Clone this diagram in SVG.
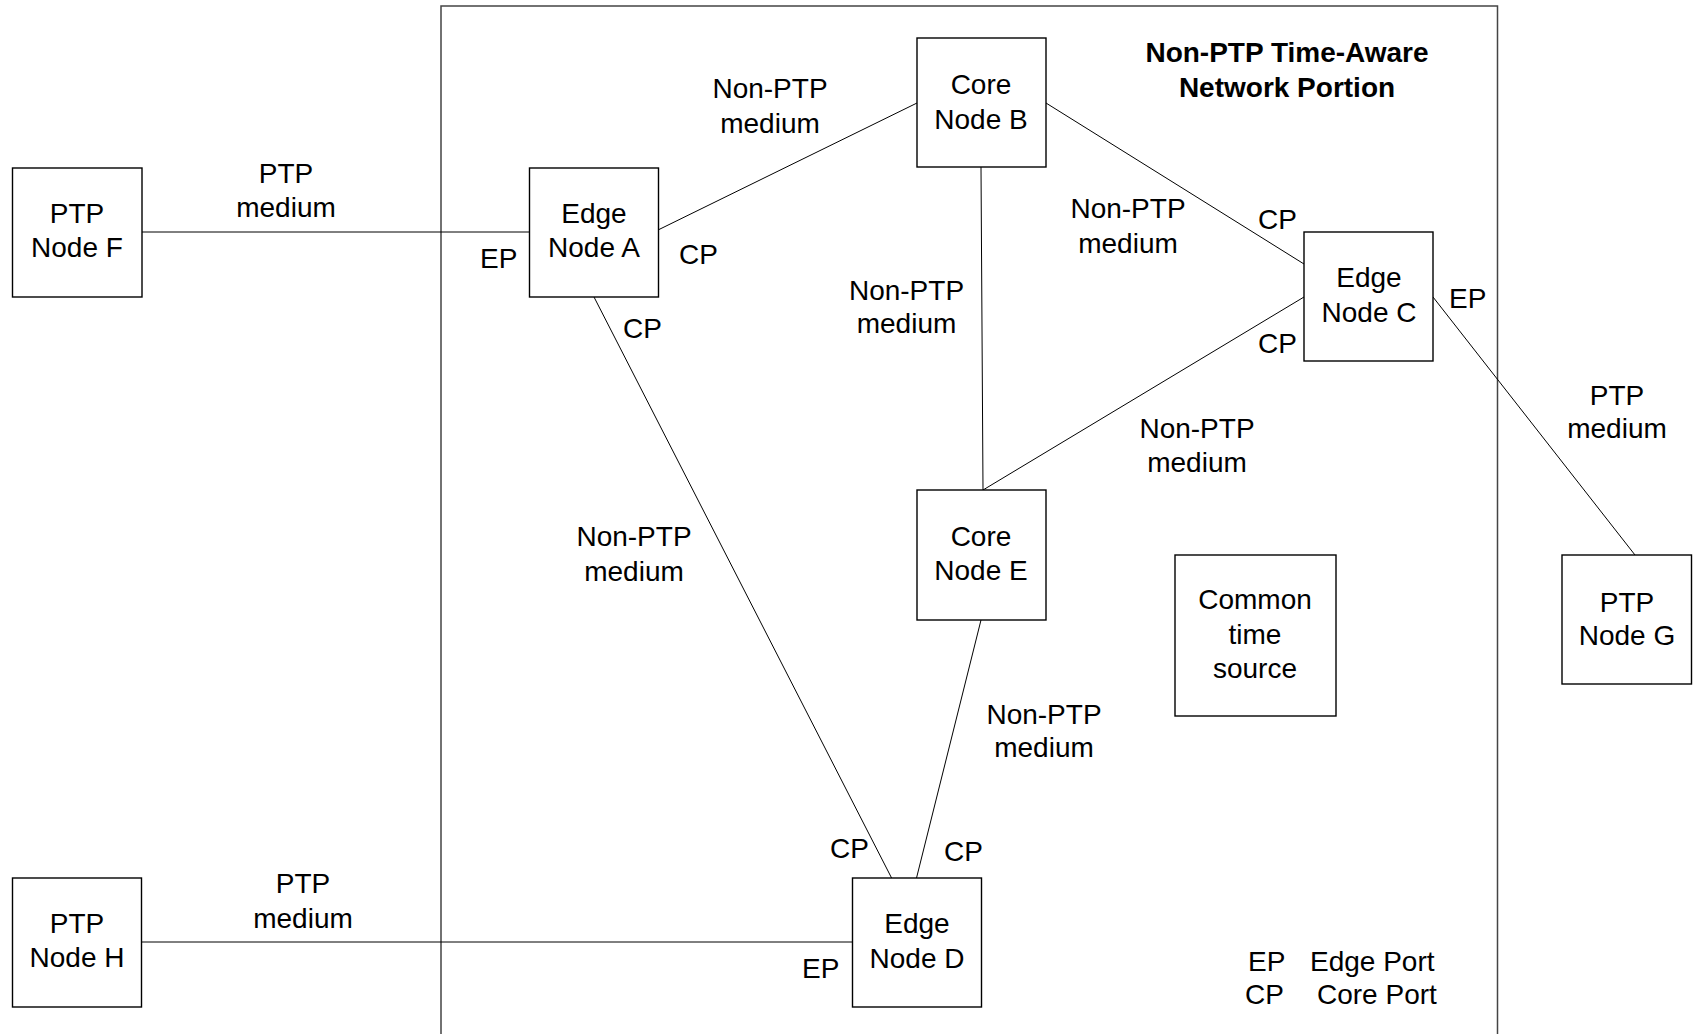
<svg xmlns="http://www.w3.org/2000/svg" width="1699" height="1034" viewBox="0 0 1699 1034">
<style>
.box{fill:#fff;stroke:#000;stroke-width:1.4}
.ln{stroke:#000;stroke-width:1;fill:none}
.frame{stroke:#444;stroke-width:1.5;fill:none}
text{font-family:"Liberation Sans",Arial,sans-serif;font-size:28px;fill:#000}
.c{text-anchor:middle}
.b{font-weight:bold}
</style>
<rect width="1699" height="1034" fill="#fff"/>
<path class="frame" d="M441,1040 V6 H1497.5 V1040"/>
<g id="connectors">
<line class="ln" x1="142" y1="232" x2="529.5" y2="232"/>
<line class="ln" x1="658" y1="230" x2="917" y2="103"/>
<line class="ln" x1="594" y1="297" x2="891.6" y2="878"/>
<line class="ln" x1="1046" y1="103" x2="1304" y2="264"/>
<line class="ln" x1="981" y1="167" x2="983" y2="490"/>
<line class="ln" x1="1304" y1="297" x2="983" y2="490"/>
<line class="ln" x1="1433" y1="297" x2="1635" y2="555"/>
<line class="ln" x1="981" y1="620" x2="916.5" y2="878"/>
<line class="ln" x1="141.6" y1="942" x2="852.5" y2="942"/>
</g>
<g id="labels">
<text class="c" x="286" y="183">PTP</text><text class="c" x="286" y="217">medium</text>
<text class="c" x="770" y="98">Non-PTP</text><text class="c" x="770" y="133">medium</text>
<text class="c" x="1128" y="218">Non-PTP</text><text class="c" x="1128" y="253">medium</text>
<text class="c" x="906.5" y="300">Non-PTP</text><text class="c" x="906.5" y="333">medium</text>
<text class="c" x="1197" y="438">Non-PTP</text><text class="c" x="1197" y="472">medium</text>
<text class="c" x="634" y="546">Non-PTP</text><text class="c" x="634" y="581">medium</text>
<text class="c" x="1617" y="405">PTP</text><text class="c" x="1617" y="438">medium</text>
<text class="c" x="1044" y="724">Non-PTP</text><text class="c" x="1044" y="757">medium</text>
<text class="c" x="303" y="893">PTP</text><text class="c" x="303" y="928">medium</text>
<text x="480" y="268">EP</text>
<text x="679" y="264">CP</text>
<text x="623" y="338">CP</text>
<text x="1258" y="229">CP</text>
<text x="1258" y="353">CP</text>
<text x="1449" y="308">EP</text>
<text x="830" y="858">CP</text>
<text x="944" y="861">CP</text>
<text x="802" y="978">EP</text>
</g>
<g id="title">
<text class="c b" x="1287" y="62">Non-PTP Time-Aware</text>
<text class="c b" x="1287" y="97">Network Portion</text>
</g>
<g id="nodeF"><rect class="box" x="12.5" y="168" width="129.5" height="129"/><text class="c" x="77" y="223">PTP</text><text class="c" x="77" y="257">Node F</text></g>
<g id="nodeA"><rect class="box" x="529.5" y="168" width="129" height="129"/><text class="c" x="594" y="223">Edge</text><text class="c" x="594" y="257">Node A</text></g>
<g id="nodeB"><rect class="box" x="917" y="38" width="129" height="129"/><text class="c" x="981" y="94">Core</text><text class="c" x="981" y="129">Node B</text></g>
<g id="nodeC"><rect class="box" x="1304" y="232" width="129" height="129"/><text class="c" x="1369" y="287">Edge</text><text class="c" x="1369" y="322">Node C</text></g>
<g id="nodeE"><rect class="box" x="917" y="490" width="129" height="130"/><text class="c" x="981" y="546">Core</text><text class="c" x="981" y="580">Node E</text></g>
<g id="nodeCTS"><rect class="box" x="1175" y="555" width="161" height="161"/><text class="c" x="1255" y="609">Common</text><text class="c" x="1255" y="644">time</text><text class="c" x="1255" y="678">source</text></g>
<g id="nodeG"><rect class="box" x="1562" y="555" width="129.5" height="129"/><text class="c" x="1627" y="612">PTP</text><text class="c" x="1627" y="645">Node G</text></g>
<g id="nodeH"><rect class="box" x="12.5" y="878" width="129" height="129"/><text class="c" x="77" y="933">PTP</text><text class="c" x="77" y="967">Node H</text></g>
<g id="nodeD"><rect class="box" x="852.5" y="878" width="129" height="129"/><text class="c" x="917" y="933">Edge</text><text class="c" x="917" y="968">Node D</text></g>
<g id="legend">
<text x="1248" y="971">EP</text><text x="1310" y="971">Edge Port</text>
<text x="1245" y="1004">CP</text><text x="1317" y="1004">Core Port</text>
</g>
</svg>
